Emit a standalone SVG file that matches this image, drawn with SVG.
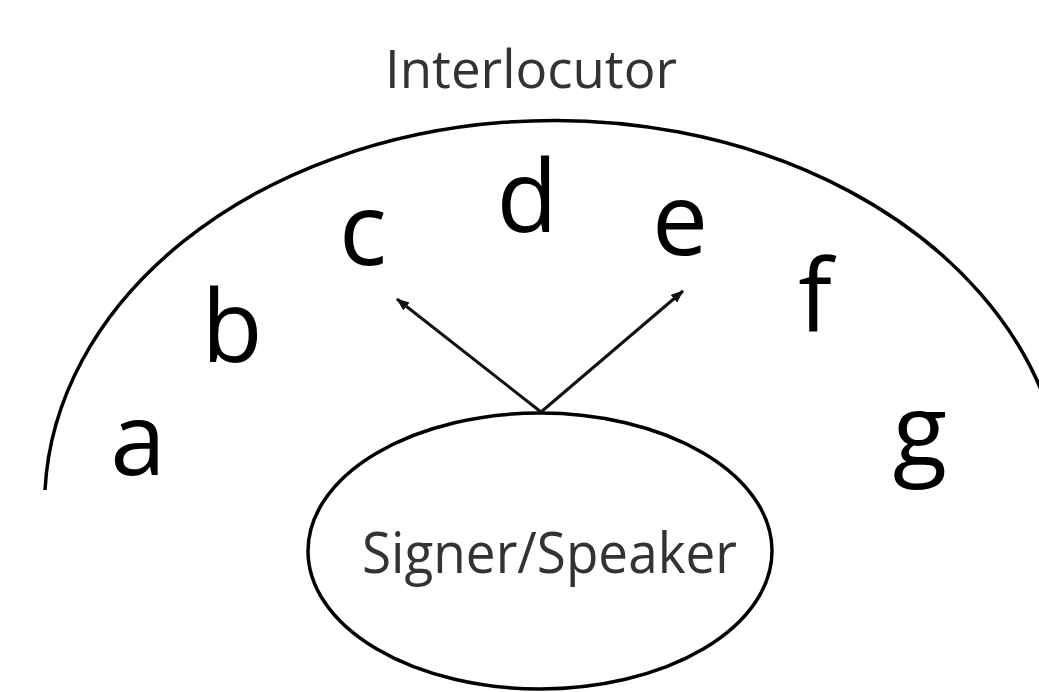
<svg xmlns="http://www.w3.org/2000/svg" width="1039" height="692" viewBox="0 0 1039 692">
<style>
.line{fill:none;stroke:#000;stroke-width:3.5}
.conn{fill:none;stroke:#111;stroke-width:3}
.lbl{font-family:"Open Sans","Noto Sans",sans-serif;font-size:100px;fill:#000;text-anchor:middle}
.title{font-family:"Open Sans","Noto Sans",sans-serif;fill:#333}
</style>
<defs>
<marker id="ah" markerUnits="userSpaceOnUse" markerWidth="14" markerHeight="12" refX="12" refY="6" orient="auto">
<path d="M0,1 L13,6 L0,11 Z" fill="#111"/>
</marker>
</defs>
<rect width="1039" height="692" fill="#fff"/>
<g id="interlocutor">
<path class="line" d="M45,490 A510,385 0 0 1 1050,414"/>
<text class="title" x="385" y="88" font-size="53" textLength="292" lengthAdjust="spacingAndGlyphs">Interlocutor</text>
</g>
<g id="labels">
<text class="lbl" x="138" y="475">a</text>
<text class="lbl" x="232" y="362">b</text>
<text class="lbl" x="363" y="265">c</text>
<text class="lbl" x="527" y="232">d</text>
<text class="lbl" x="680" y="255">e</text>
<text class="lbl" x="815" y="332">f</text>
<text class="lbl" x="920" y="466">g</text>
</g>
<g id="speaker">
<ellipse class="line" cx="540" cy="551" rx="232" ry="138"/>
<text class="title" x="362" y="573" font-size="56" textLength="375" lengthAdjust="spacingAndGlyphs" fill="#222">Signer/Speaker</text>
</g>
<g id="connectors">
<line class="conn" x1="541" y1="412" x2="397" y2="299" marker-end="url(#ah)"/>
<line class="conn" x1="541" y1="412" x2="683" y2="291" marker-end="url(#ah)"/>
</g>
</svg>
